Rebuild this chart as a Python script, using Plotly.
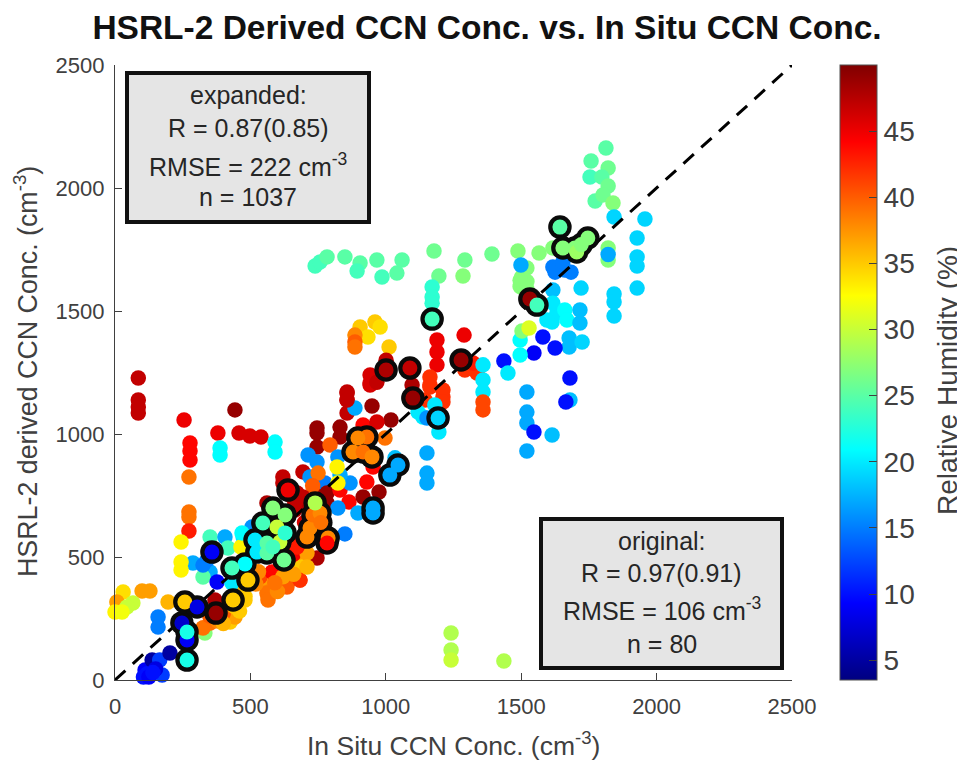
import plotly.graph_objects as go

# Expanded data set: in situ CCN, HSRL-2 derived CCN, relative humidity
base_x = [111,120,105,125,137,165,203,174,150,140, 159,159,
 30,100,129,7,66,44,0,26,196,
 417,461,450,480,325,332,351,377,360,390,
 351,406,417,351,325,377,340,473,465,506,469,288,325,432,
 609,565,572,554,646,672,694,635,583,569,683,702,746,646,657,543,
 561,565,635,535,690,709,672,683,709,580,
 425,480,443,325,369,400,
 520,600,620,660,590,530,380,350,400,440,460,
 683,757,646,664,628,700,720,
 86,86,86,86,443,255,277,277,277,273,273,273,273,244,244,244,
 380,388,388,458,498,539,591,591,
 620,620,694,746,746,746,831,831,857,857,857,949,1019,942,794,886,
 713,746,720,775,750,730,694,672,664,783,783,561,831,864,823,849,897,916,975,930,953,
 823,868,831,820,823,1034,916,967,997,1137,1145,1211,1163,
 1152,1152,1152,1189,1189,1189,1289,1163,1163,1211,1211,1292,1337,1322,1359,1359,1359,1359,1359,1097,
 1119,1152,1181,1196,1012,905,960,979,934,886,886,886,
 942,942,857,857,967,1001,
 739,757,783,849,905,894,967,986,1041,1060,1178,1196,1292,1285,1392,1488,1566,1617,
 1171,1171,1171,
 1521,1503,1521,1496,1510,1496,1521,1499,
 1617,1661,1684,1625,1654,1617,1721,
 1614,1632,1617,1661,1669,1595,1717,1717,1677,1677,1725,
 1580,1547,1625,1436,1680,1451,1496,1496,1503,1529,
 1521,1521,1521,1547,1614,1521,1680,1665,
 1813,1758,1821,1754,1798,1821,1773,1802,1839,
 1843,1957,1928,1928,1928,1928,1843,1843,1843,1821,1821,1821,
 1241,1241,1241,1436]
base_y = [41,25,12,12,81,81,110,20,45,30, 256,215,
 358,362,362,317,313,297,276,276,317,
 244,313,378,340,211,191,232,313,270,290,
 581,581,537,439,419,398,488,581,541,622,598,476,467,394,
 394,337,366,394,406,459,476,394,427,427,406,500,496,557,508,415,
 354,325,378,419,459,516,541,406,459,439,
 236,325,256,211,325,270,
 390,360,420,430,395,440,240,260,230,300,280,
 711,752,752,691,650,640,600,
 1228,1138,1110,1085,1098,1057,963,931,894,825,683,663,606,561,480,447,
 1004,943,915,1004,992,988,967,927,
 825,801,846,1024,1004,947,1028,988,1167,1138,1085,1114,1057,1207,955,1106,
 915,886,825,801,841,790,744,760,720,760,720,720,772,724,699,594,679,744,764,805,866,
 907,801,833,866,801,903,1037,1049,984,1069,1138,1150,1199,
 923,841,801,1382,1333,1281,1402,1232,1191,1179,1130,1260,1248,1289,1281,1220,1171,1130,1098,1199,
 1089,1065,1118,1008,1354,1435,1455,1435,1394,1402,1374,1354,
 1240,1199,1171,1138,1210,1300,
 1683,1699,1720,1720,1695,1663,1707,1638,1654,1707,1744,1642,1707,1642,1732,1744,1736,1756,
 1598,1557,1532,
 1675,1640,1620,1600,1590,1625,1590,1687,
 1679,1667,1658,1658,1699,1585,1593,
 1455,1492,1532,1504,1463,1463,1504,1451,1390,1354,1374,
 1394,1329,1350,1297,1228,1248,1382,1321,1419,1431,
 1171,1089,1045,1008,996,931,1138,1130,
 2163,2110,2081,2045,2045,2008,1947,1972,1939,
 1882,1874,1797,1720,1683,1593,1569,1537,1480,1756,1707,1730,
 191,122,81,77]
base_rh = [9,10,10,9,5,12,5,12,8,10, 15,15,
 34,37,37,37,30,30,33,32,36,
 35,35,36,35,39,27,39,48,37,37,
 24,17,24,17,25,9,15,20,33,16,21,17,15,20,
 37,38,37,38,37,35,35,38,37,31,41,37,48,46,45,37,
 39,39,40,41,35,37,43,42,36,44,
 35,35,37,39,48,40,
 38,38,37,37,39,38,38,40,36,35,35,
 48,48,47,47,47,46,47,
 47,47,47,47,49,45,44,44,44,39,39,39,43,33,33,33,
 45,21,21,46,46,46,21,21,
 47,47,47,49,49,49,49,49,47,47,47,49,49,46,40,17,
 16,16,16,15,39,40,47,47,47,49,49,48,44,44,16,15,17,49,49,44,44,
 16,16,17,33,33,18,44,46,39,20,42,42,42,
 17,17,17,45,45,45,45,42,42,42,42,42,42,43,20,20,20,41,41,48,
 20,16,20,20,35,35,35,34,34,38,40,39,
 46,46,47,47,47,47,
 24,24,25,25,25,24,25,24,25,25,26,26,26,27,26,27,27,27,
 23,23,23,
 27,27,27,27,27,27,27,17,
 15,15,15,15,15,18,19,
 20,20,20,21,21,20,18,18,18,18,19,
 10,9,10,10,10,20,21,21,27,31,
 17,17,17,10,18,17,18,10,
 25,25,26,24,25,26,25,26,27,
 19,19,19,19,19,19,19,19,19,27,27,17,
 29,29,30,29]

# Original data set (outlined points)
orig_x = [266,247,266,258,303,373,266,436,491,480,432,358,524,517,546,583,628,624,
 561,561,598,609,628,583,
 720,709,731,757,739,787,783,760,
 930,879,916,949,897,1015,1045,953,953,1100,1193,
 1001,1089,1278,1171,1532,1558,1643,1654,1698,1705,1746,1722,639]
orig_y = [163,232,81,317,297,272,195,325,406,472,455,520,520,569,638,699,671,488,
 557,516,622,561,598,541,
 618,581,671,679,720,577,557,640,
 988,927,927,907,984,833,874,699,679,1146,1065,
 1260,1268,1301,1467,1549,1524,1841,1756,1756,1740,1797,1770,772]
orig_rh = [9,7,22,35,8,49,22,35,35,21,24,9,20,20,24,27,27,26,
 25,25,30,30,23,24,
 38,38,39,38,29,38,44,39,
 39,38,39,38,38,17,17,17,17,49,19,
 48,47,49,24,49,24,25,27,27,28,27,27,45]

diag_x = [0, 2500]
diag_y = [0, 2500]

x_ticks = [0, 500, 1000, 1500, 2000, 2500]
y_ticks = [0, 500, 1000, 1500, 2000, 2500]
cb_ticks = [5, 10, 15, 20, 25, 30, 35, 40, 45]
box_expanded = ["expanded:", "R = 0.87(0.85)", "RMSE = 222 cm<sup>-3</sup>", "n = 1037"]
box_original = ["original:", "R = 0.97(0.91)", "RMSE = 106 cm<sup>-3</sup>", "n = 80"]

FONT = "Liberation Sans, Arial, sans-serif"
GREY = "#404040"
JET = [[0, "#000080"], [0.125, "#0000ff"], [0.375, "#00ffff"],
       [0.625, "#ffff00"], [0.875, "#ff0000"], [1, "#800000"]]
OFF = 8  # the page's body margin
L, R, T, B = 115, 792, 65, 680
W, H = 965, 760
px = lambda v: (v - L) / (R - L)
py = lambda v: (B - v) / (B - T)

fig = go.Figure()
fig.add_trace(go.Scatter(
    x=base_x, y=base_y, mode="markers", cliponaxis=False, hoverinfo="skip",
    marker=dict(size=15.5, color=base_rh, cmin=3.5, cmax=50, colorscale=JET, line=dict(width=0),
                colorbar=dict(x=px(840), xanchor="left", xpad=0, y=0.5, yanchor="middle", len=1, ypad=0,
                              thickness=37, outlinecolor="#505050", outlinewidth=1,
                              tickmode="array", tickvals=cb_ticks, ticks="inside", ticklen=8,
                              tickcolor="#404040", tickwidth=1,
                              tickfont=dict(family=FONT, size=28, color=GREY))),
    showlegend=False))
fig.add_trace(go.Scatter(
    x=diag_x, y=diag_y, mode="lines", hoverinfo="skip", showlegend=False, cliponaxis=False,
    line=dict(color="black", width=3, dash="14px,10px")))
fig.add_trace(go.Scatter(
    x=orig_x, y=orig_y, mode="markers", cliponaxis=False, hoverinfo="skip", showlegend=False,
    marker=dict(size=23.5, color="#0a0a0a", line=dict(width=0))))
fig.add_trace(go.Scatter(
    x=orig_x, y=orig_y, mode="markers", cliponaxis=False, hoverinfo="skip", showlegend=False,
    marker=dict(size=15, color=orig_rh, cmin=3.5, cmax=50, colorscale=JET, line=dict(width=0))))

shapes, annos = [], []
for (x0, x1, y0, y1, lines, ys) in [
        (127, 369, 73, 222, box_expanded, [95, 128, 165, 197]),
        (541, 782, 519, 668, box_original, [541, 573, 609, 644])]:
    shapes.append(dict(type="rect", xref="paper", yref="paper", x0=px(x0), x1=px(x1), y0=py(y0), y1=py(y1),
                       fillcolor="#e5e5e5", line=dict(color="#111111", width=4), layer="above"))
    for txt, yy in zip(lines, ys):
        annos.append(dict(xref="paper", yref="paper", x=px((x0 + x1) / 2), y=py(yy), text=txt,
                          showarrow=False, xanchor="center", yanchor="middle",
                          font=dict(family=FONT, size=25, color="#262626")))
annos.append(dict(xref="paper", yref="paper", x=px(947), y=py(381), text="Relative Humidity (%)",
                  textangle=-90, showarrow=False, xanchor="center", yanchor="middle",
                  font=dict(family=FONT, size=28, color=GREY)))
annos.append(dict(xref="paper", yref="paper", x=px(453), y=py(744), text="In Situ CCN Conc. (cm<sup>-3</sup>)",
                  showarrow=False, xanchor="center", yanchor="middle",
                  font=dict(family=FONT, size=26.5, color=GREY)))
annos.append(dict(xref="paper", yref="paper", x=px(26), y=py(372), text="HSRL-2 derived CCN Conc. (cm<sup>-3</sup>)",
                  textangle=-90, showarrow=False, xanchor="center", yanchor="middle",
                  font=dict(family=FONT, size=26.8, color=GREY)))

axis = dict(range=[0, 2500], showgrid=False, zeroline=False, showline=True, linecolor=GREY, linewidth=1.3,
            ticks="inside", ticklen=7, tickcolor=GREY, tickwidth=1.3, tickmode="array", automargin=False,
            tickfont=dict(family=FONT, size=22, color=GREY), mirror=False)

fig.update_layout(
    width=W, height=H, autosize=False, paper_bgcolor="white", plot_bgcolor="white",
    margin=dict(l=L - OFF, r=W - (R - OFF), t=T - OFF, b=H - (B - OFF)), showlegend=False,
    title=dict(text="<b>HSRL-2 Derived CCN Conc. vs. In Situ CCN Conc.</b>", x=(487 - OFF) / W, xanchor="center",
               y=1 - (27 - OFF) / H, yanchor="middle", font=dict(family=FONT, size=33.5, color="#111111")),
    xaxis=dict(axis, tickvals=x_ticks, ticklabelstandoff=6),
    yaxis=dict(axis, tickvals=y_ticks, ticklabelstandoff=5),
    shapes=shapes, annotations=annos)

fig.write_html("out.html")
